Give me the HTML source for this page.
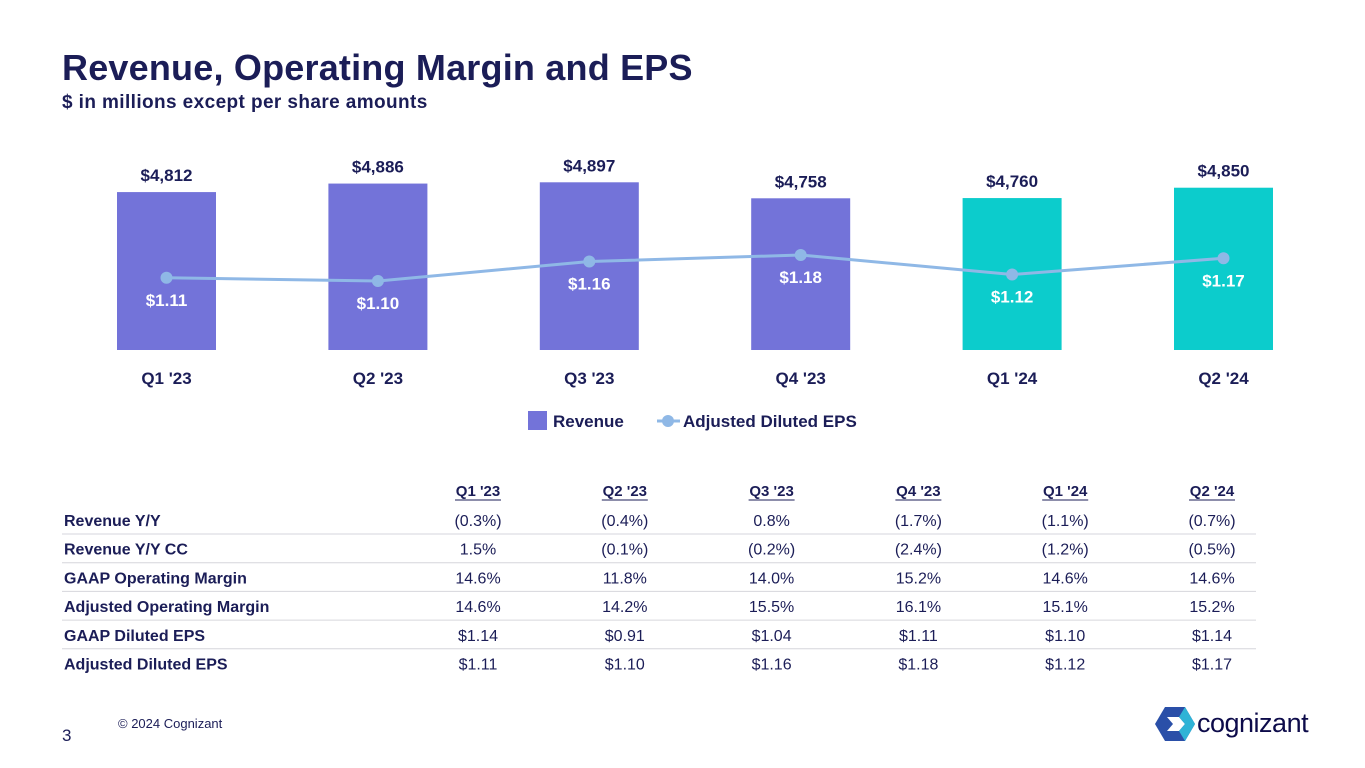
<!DOCTYPE html>
<html><head><meta charset="utf-8"><style>
body{margin:0;width:1365px;height:768px;background:#fff;font-family:"Liberation Sans",sans-serif;color:#1b1d57;position:relative;overflow:hidden}
.abs{position:absolute}
</style></head><body>
<div class="abs" style="left:62px;top:47px;font-size:36px;font-weight:bold;letter-spacing:0.2px">Revenue, Operating Margin and EPS</div>
<div class="abs" style="left:62px;top:92px;font-size:19px;font-weight:bold;letter-spacing:0.4px">$ in millions except per share amounts</div>
<svg class="abs" style="left:0;top:0" width="1365" height="768" id="chart"></svg>
<div class="abs" style="left:118px;top:716px;font-size:13px">© 2024 Cognizant</div>
<div class="abs" style="left:62px;top:726px;font-size:17px">3</div>
<div class="abs" style="left:1155px;top:706px;width:180px;height:36px">
<svg width="40" height="34" viewBox="0 0 40 34" style="position:absolute;left:0;top:1px"><polygon points="10,0 30,0 40,17 30,34 10,34 0,17" fill="#2a4fa8"/><polygon points="12,10 24,10 30,17 24,24 12,24 18,17" fill="#fff"/><polygon points="30,0 40,17 30,34 24,24 30,17 24,10" fill="#2fb3d6"/></svg>
<div style="position:absolute;left:42px;top:2px;font-size:27px;color:#0d0b4a;letter-spacing:-0.5px">cognizant</div></div>
<script>
const categories=["Q1 '23","Q2 '23","Q3 '23","Q4 '23","Q1 '24","Q2 '24"];
const revenue=[4812,4886,4897,4758,4760,4850];
const revenueLabels=["$4,812","$4,886","$4,897","$4,758","$4,760","$4,850"];
const eps=[1.11,1.10,1.16,1.18,1.12,1.17];
const epsLabels=["$1.11","$1.10","$1.16","$1.18","$1.12","$1.17"];
const barColors=["#7373d9","#7373d9","#7373d9","#7373d9","#0ccccc","#0ccccc"];
const rowNames=["Revenue Y/Y","Revenue Y/Y CC","GAAP Operating Margin","Adjusted Operating Margin","GAAP Diluted EPS","Adjusted Diluted EPS"];
const rowValues=[["(0.3%)","(0.4%)","0.8%","(1.7%)","(1.1%)","(0.7%)"],["1.5%","(0.1%)","(0.2%)","(2.4%)","(1.2%)","(0.5%)"],["14.6%","11.8%","14.0%","15.2%","14.6%","14.6%"],["14.6%","14.2%","15.5%","16.1%","15.1%","15.2%"],["$1.14","$0.91","$1.04","$1.11","$1.10","$1.14"],["$1.11","$1.10","$1.16","$1.18","$1.12","$1.17"]];
const NS="http://www.w3.org/2000/svg";const svg=document.getElementById('chart');
function mk(t,a,p){const e=document.createElementNS(NS,t);for(const k in a)e.setAttribute(k,a[k]);(p||svg).appendChild(e);return e;}
const xC=i=>166.5+i*211.4;
const yRev=v=>350-(v-3440)*0.1151;
const yEps=v=>281-(v-1.10)*325;
const txt=(x,y,s,opt)=>{const e=mk('text',Object.assign({x:x,y:y,'font-size':17,'font-weight':'bold','fill':'#1b1d57','text-anchor':'middle','font-family':'Liberation Sans, sans-serif'},opt||{}));e.textContent=s;return e;};
categories.forEach((c,i)=>{
 const b=mk('rect',{x:xC(i)-49.5,y:yRev(revenue[i]),width:99,height:350-yRev(revenue[i]),fill:barColors[i]});
 
 
 const l=txt(xC(i),yRev(revenue[i])-11,revenueLabels[i]);
 
 
 const x=txt(xC(i),384,c);
 
 
});
const pts=eps.map((v,i)=>xC(i)+','+yEps(v)).join(' ');
const line=mk('polyline',{points:pts,fill:'none',stroke:'#8fb8e6','stroke-width':3});


eps.forEach((v,i)=>{
 const p=mk('circle',{cx:xC(i),cy:yEps(v),r:6,fill:'#8fb8e6'});
 
 
 const l=txt(xC(i),yEps(v)+28,epsLabels[i],{fill:'#fff'});
 
 
});
const lg=mk('g',{});


mk('rect',{x:528,y:411,width:19,height:19,fill:'#7373d9'},lg);
txt(553,427,'Revenue',{'text-anchor':'start'});
mk('line',{x1:657,y1:421,x2:680,y2:421,stroke:'#8fb8e6','stroke-width':3},lg);
mk('circle',{cx:668,cy:421,r:6,fill:'#8fb8e6'},lg);
txt(683,427,'Adjusted Diluted EPS',{'text-anchor':'start'});
const colX=i=>478+i*146.8;
categories.forEach((c,i)=>{
 const h=txt(colX(i),496,c,{'font-size':15});
 
 
 mk('line',{x1:colX(i)-23,y1:500,x2:colX(i)+23,y2:500,stroke:'#1b1d57','stroke-width':1});
});
rowNames.forEach((r,j)=>{
 const y=526+j*28.7;
 const n=txt(64,y,r,{'text-anchor':'start','font-size':16});
 
 
 rowValues[j].forEach((v,i)=>{
  const c=txt(colX(i),y,v,{'font-size':16,'font-weight':'normal'});
  
  
 });
 if(j<rowNames.length-1){const s=mk('line',{x1:62,y1:y+8,x2:1256,y2:y+8,stroke:'#d6d6dc','stroke-width':1});
 
 }
});
</script>
</body></html>
